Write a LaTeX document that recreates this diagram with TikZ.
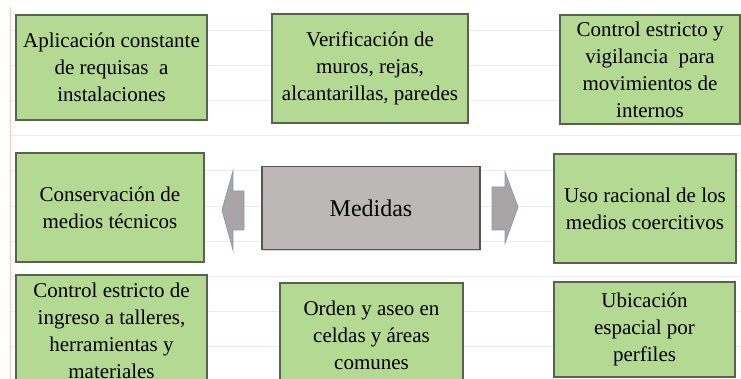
\documentclass[tikz,border=0pt]{standalone}
\usepackage{fontspec}
\setmainfont{Liberation Serif}
\newfontfamily\tnr{Liberation Serif}
\usetikzlibrary{shadows}
\definecolor{gfill}{HTML}{B3D992}
\definecolor{gdraw}{HTML}{56644F}
\definecolor{mfill}{HTML}{BDB8B8}
\definecolor{mdraw}{HTML}{555555}
\definecolor{afill}{HTML}{A9A5A6}
\definecolor{adraw}{HTML}{8A9BB8}
\definecolor{grid}{HTML}{E6ECF6}
\definecolor{redline}{HTML}{F5CACA}
\tikzset{
  gbox/.style={draw=gdraw, fill=gfill, line width=1.4pt, align=center, inner sep=0pt,
    font=\tnr\fontsize{21}{27}\selectfont, text=black,
    drop shadow={shadow xshift=1.2pt, shadow yshift=-1.2pt, opacity=0.35}},
  mbox/.style={draw=mdraw, fill=mfill, line width=1.4pt, align=center, inner sep=0pt,
    font=\tnr\fontsize{24}{28}\selectfont, text=black,
    drop shadow={shadow xshift=1.2pt, shadow yshift=-1.2pt, opacity=0.35}},
  barrow/.style={fill=afill, draw=adraw, line width=0.8pt, line join=miter},
  gridline/.style={draw=grid, line width=0.8pt}
}
\begin{document}
\begin{tikzpicture}[x=1pt,y=-1pt]
\useasboundingbox (0,0) rectangle (741,379);
\clip (0,0) rectangle (741,379);
\fill[white] (0,0) rectangle (741,379);
% spreadsheet grid
\foreach \yy in {30,65,100,135,170,206,241,276,311,346}
  \draw[gridline] (10,\yy) -- (741,\yy);
\draw[redline, line width=0.7pt] (10,7) -- (10,379);
% top row
\node[gbox, minimum width=191pt, minimum height=105pt] (apl) at (111.5,67.5)
  {Aplicación constante\\de requisas\ \ a\\instalaciones};
\node[gbox, minimum width=196pt, minimum height=109pt] (ver) at (370,68.5)
  {Verificación de\\muros, rejas,\\alcantarillas, paredes};
\node[gbox, minimum width=180pt, minimum height=109pt] (vig) at (650,69.5)
  {Control estricto y\\vigilancia\ \ para\\movimientos de\\internos};
% middle row
\node[gbox, minimum width=188pt, minimum height=109pt] (con) at (110,207.5)
  {Conservación de\\medios técnicos};
\node[mbox, minimum width=218pt, minimum height=83pt] (med) at (371,208)
  {Medidas};
\node[gbox, minimum width=182pt, minimum height=109pt] (uso) at (645,208.5)
  {Uso racional de los\\medios coercitivos};
% bottom row
\node[gbox, minimum width=191pt, minimum height=112pt] (ing) at (111.5,331)
  {Control estricto de\\ingreso a talleres,\\herramientas y\\materiales};
\node[gbox, minimum width=183pt, minimum height=104pt] (ord) at (371.5,335)
  {Orden y aseo en\\celdas y áreas\\comunes};
\node[gbox, minimum width=181pt, minimum height=95pt] (ubi) at (644.5,329.5)
  {Ubicación\\espacial por\\perfiles};
% block arrows
\coordinate (ltip) at (222,210);
\coordinate (rtip) at (518,207);
\draw[barrow] (ltip) -- (233,171) -- (233,191) -- (244,191) -- (244,230) -- (233,230) -- (233,250) -- cycle;
\draw[barrow] (rtip) -- (505,243) -- (505,230) -- (492,230) -- (492,187) -- (505,187) -- (505,172) -- cycle;
\end{tikzpicture}
\end{document}
